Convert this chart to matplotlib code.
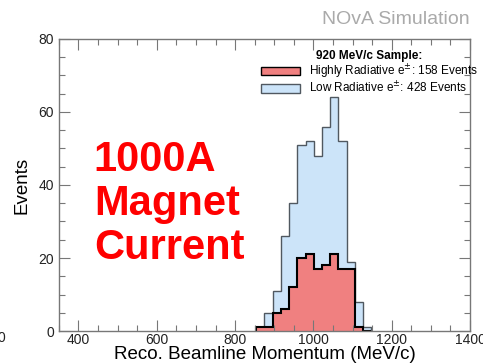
import numpy as np
import matplotlib.pyplot as plt
from matplotlib.patches import Patch
from matplotlib.ticker import MultipleLocator

plt.rcParams['font.family'] = ['Liberation Sans', 'DejaVu Sans']

# 50 bins over 350-1400 MeV/c, counts given from bin 24 (854 MeV/c) onwards
edges = np.linspace(350, 1400, 51)
first_bin = 24
low_rad = [0, 5, 11, 26, 35, 51, 52, 48, 56, 64, 52, 19, 8, 1]
high_rad = [1, 1, 5, 6, 12, 20, 21, 17, 18, 21, 17, 17, 1, 0]

n_low = 428
n_high = 158
sample = '920 MeV/c Sample:'

e_low = edges[first_bin:first_bin + len(low_rad) + 1]
e_high = edges[first_bin:first_bin + len(high_rad) + 1]

blue = '#cce4f9'
red = '#f08080'

fig = plt.figure(figsize=(4.83, 3.63), dpi=100)
ax = fig.add_axes([0.122, 0.088, 0.851, 0.805])

ax.stairs(low_rad, e_low, fill=True, color=blue)
ax.stairs(low_rad, e_low, color='#505860', lw=1.0, baseline=0)
ax.stairs(high_rad, e_high, fill=True, color=red)
ax.stairs(high_rad, e_high, color='black', lw=1.5, baseline=0)

ax.set_xlim(350, 1400)
ax.set_ylim(0, 80)
ax.xaxis.set_major_locator(MultipleLocator(200))
ax.xaxis.set_minor_locator(MultipleLocator(50))
ax.yaxis.set_major_locator(MultipleLocator(20))
ax.yaxis.set_minor_locator(MultipleLocator(5))
ax.tick_params(which='both', direction='in', top=True, right=True,
               colors='#777777', labelcolor='#222222', labelsize=10)
ax.tick_params(which='major', length=8, width=0.8)
ax.tick_params(which='minor', length=4, width=0.8)
ax.tick_params(axis='x', pad=1.5)
for s in ax.spines.values():
    s.set_color('#777777')
    s.set_linewidth(1.0)

ax.set_xlabel('Reco. Beamline Momentum (MeV/c)', fontsize=13.5, labelpad=0)
ax.set_ylabel('Events', fontsize=13.5, labelpad=6)
ax.xaxis.set_label_coords(0.5, -0.052)

handles = [Patch(facecolor=red, edgecolor='black', lw=1.0),
           Patch(facecolor=blue, edgecolor='#505860', lw=1.0)]
labels = [r'Highly Radiative e$^{\pm}$: %d Events' % n_high,
          r'Low Radiative e$^{\pm}$: %d Events' % n_low]
leg = ax.legend(handles, labels, title=sample, loc='upper right',
                bbox_to_anchor=(1.037, 0.985), frameon=False, fontsize=8.5,
                handlelength=3.3, handleheight=0.75, handletextpad=0.8,
                labelspacing=0.0, borderaxespad=0.2)
leg.get_title().set_fontweight('bold')
leg.get_title().set_fontsize(8.5)

ax.text(0.085, 0.655, '1000A\nMagnet\nCurrent', transform=ax.transAxes,
        color='red', fontsize=30, fontweight='bold', va='top', ha='left',
        linespacing=1.14)

fig.text(0.973, 0.945, 'NOvA Simulation', color='#aaaaaa', fontsize=14,
         ha='right', va='center')
fig.text(-0.006, 0.068, '0', color='#222222', fontsize=10, ha='left', va='center')

fig.savefig('out.png', dpi=100)
